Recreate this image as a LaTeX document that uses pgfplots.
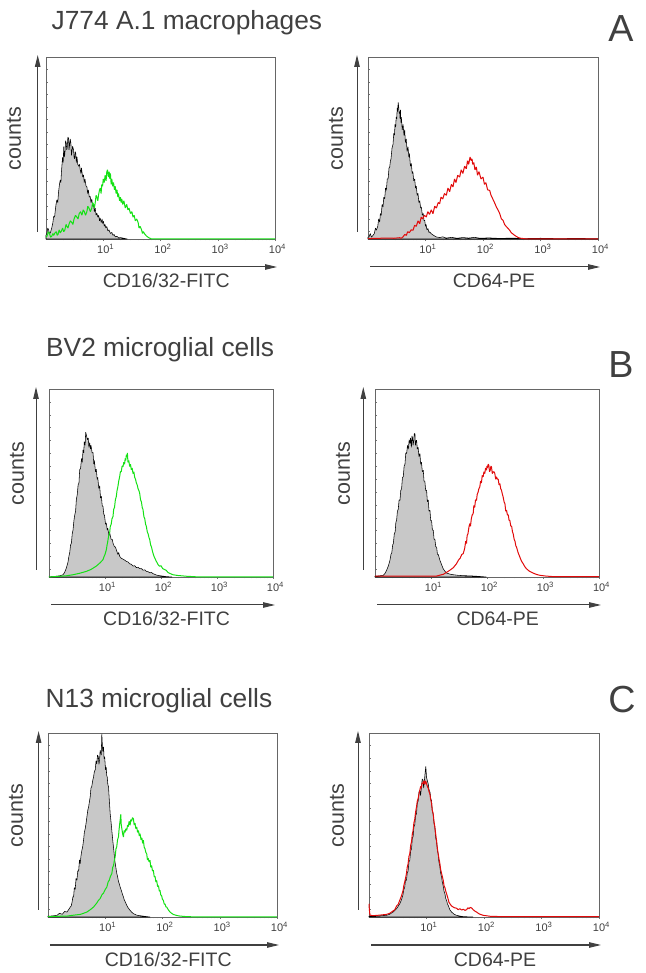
\documentclass[border=0pt]{standalone}
\usepackage{fontspec}
\setmainfont{Liberation Sans}
\usepackage{pgfplots}
\pgfplotsset{compat=1.18}
\usetikzlibrary{arrows.meta}
\definecolor{txt}{RGB}{64,64,64}
\definecolor{fcgreen}{RGB}{20,225,20}
\definecolor{fcred}{RGB}{225,10,10}
\definecolor{fcgray}{RGB}{200,200,200}
\pgfplotsset{facs/.style={
  scale only axis, anchor=south west,
  xmin=0,xmax=4,ymin=0,ymax=1,
  axis line style={draw=black!60, line width=0.5pt},
  xtick={1,2,3,4},
  xticklabels={10\textsuperscript{1},10\textsuperscript{2},10\textsuperscript{3},10\textsuperscript{4}},
  minor xtick={0.301,0.477,0.602,0.699,0.778,0.845,0.903,0.954,1.301,1.477,1.602,1.699,1.778,1.845,1.903,1.954,2.301,2.477,2.602,2.699,2.778,2.845,2.903,2.954,3.301,3.477,3.602,3.699,3.778,3.845,3.903,3.954},
  xtick pos=bottom, xtick align=outside,
  ytick={1,0.9315,0.863,0.7945,0.726,0.6575,0.589,0.5205,0.452,0.3835,0.315,0.2465,0.178,0.1095,0.041},
  yticklabels={}, ytick pos=left, ytick align=inside,
  major tick length=2pt, minor tick length=1.5pt,
  tick style={black!55, line width=0.4pt},
  xticklabel style={font=\fontsize{11}{13}\selectfont, text=txt, xshift=2.5pt},
  clip=false,
}}
\newcommand{\deco}[3]{%
  \draw[txt, line width=1pt, -{Triangle[length=12pt,width=5.5pt]}] ([xshift=#1,yshift=7pt]rel axis cs:0,0) -- ([xshift=#1,yshift=2pt]rel axis cs:0,1);
  \draw[txt, line width=1pt, -{Triangle[length=12pt,width=5.5pt]}] ([xshift=2pt,yshift=-28pt]rel axis cs:0,0) -- ([xshift=2pt,yshift=-28pt]rel axis cs:1,0);
  \node[rotate=90, text=txt, font=\fontsize{21.5}{24}\selectfont] at ([xshift=-32pt]rel axis cs:0,0.55) {counts};
  \node[anchor=base, text=txt, font=\fontsize{19.5}{22}\selectfont] at ([yshift=-49pt]rel axis cs:#3,0) {#2};
}
\tikzset{grayfill/.style={fill=fcgray, draw=black, line width=0.55pt, line join=bevel},
  greenline/.style={draw=fcgreen, line width=1pt, line join=bevel},
  redline/.style={draw=fcred, line width=1pt, line join=bevel}}
\begin{document}
\begin{tikzpicture}[x=1pt,y=1pt]
\useasboundingbox (0,0) rectangle (645,973);
% titles
\node[anchor=base west, text=txt, font=\fontsize{26.3}{30}\selectfont, inner sep=0pt] at (51.5,943) {J774 A.1 macrophages};
\node[anchor=base west, text=txt, font=\fontsize{26.3}{30}\selectfont, inner sep=0pt] at (46,616) {BV2 microglial cells};
\node[anchor=base west, text=txt, font=\fontsize{26.3}{30}\selectfont, inner sep=0pt] at (45.5,265) {N13 microglial cells};
\node[anchor=base, text=txt, font=\fontsize{37.7}{40}\selectfont, inner sep=0pt] at (621,931) {A};
\node[anchor=base, text=txt, font=\fontsize{37.7}{40}\selectfont, inner sep=0pt] at (621,595) {B};
\node[anchor=base, text=txt, font=\fontsize{37.7}{40}\selectfont, inner sep=0pt] at (622,260) {C};

% ---------- A left
\begin{axis}[facs, at={(46pt,734pt)}, width=229pt, height=182pt]
\addplot[grayfill] coordinates {(0,0.02)(0.017,0.033)(0.03,0.06)(0.046,0.051)(0.06,0.03)(0.075,0.033)(0.10,0.06)(0.12,0.09)(0.134,0.124)(0.15,0.12)(0.16,0.15)(0.175,0.19)(0.19,0.215)(0.205,0.20)(0.22,0.26)(0.235,0.30)(0.25,0.325)(0.26,0.31)(0.27,0.37)(0.28,0.41)(0.29,0.45)(0.30,0.42)(0.31,0.507)(0.32,0.45)(0.33,0.47)(0.342,0.54)(0.354,0.526)(0.362,0.49)(0.37,0.50)(0.382,0.56)(0.395,0.553)(0.402,0.49)(0.41,0.51)(0.422,0.55)(0.435,0.526)(0.445,0.46)(0.45,0.47)(0.465,0.51)(0.482,0.489)(0.49,0.45)(0.50,0.44)(0.51,0.48)(0.52,0.47)(0.53,0.42)(0.54,0.453)(0.555,0.41)(0.57,0.40)(0.585,0.41)(0.598,0.38)(0.61,0.36)(0.62,0.39)(0.64,0.34)(0.656,0.352)(0.668,0.31)(0.68,0.33)(0.70,0.29)(0.714,0.288)(0.728,0.25)(0.74,0.27)(0.756,0.23)(0.772,0.234)(0.785,0.20)(0.80,0.22)(0.815,0.18)(0.83,0.188)(0.845,0.15)(0.86,0.17)(0.875,0.13)(0.888,0.142)(0.905,0.12)(0.92,0.13)(0.935,0.10)(0.946,0.115)(0.965,0.09)(0.98,0.11)(0.99,0.085)(1.004,0.097)(1.018,0.07)(1.03,0.08)(1.045,0.06)(1.062,0.069)(1.08,0.045)(1.10,0.05)(1.125,0.03)(1.15,0.036)(1.17,0.02)(1.19,0.025)(1.21,0.012)(1.237,0.015)(1.27,0.006)(1.30,0.008)(1.353,0.004)(1.42,0)} \closedcycle;
\addplot[greenline] coordinates {(0,0.01)(0.017,0.015)(0.04,0.04)(0.06,0.03)(0.08,0.01)(0.10,0.015)(0.12,0.03)(0.134,0.02)(0.16,0.035)(0.18,0.04)(0.195,0.02)(0.21,0.025)(0.23,0.05)(0.25,0.033)(0.27,0.045)(0.29,0.06)(0.31,0.04)(0.33,0.05)(0.35,0.08)(0.366,0.069)(0.385,0.06)(0.40,0.08)(0.425,0.10)(0.453,0.09)(0.47,0.08)(0.49,0.11)(0.515,0.13)(0.54,0.12)(0.56,0.11)(0.58,0.14)(0.605,0.15)(0.627,0.13)(0.65,0.16)(0.67,0.15)(0.69,0.13)(0.714,0.15)(0.73,0.18)(0.75,0.17)(0.775,0.15)(0.8,0.17)(0.815,0.20)(0.83,0.19)(0.845,0.17)(0.86,0.2)(0.875,0.24)(0.89,0.23)(0.905,0.21)(0.917,0.24)(0.935,0.27)(0.95,0.28)(0.962,0.25)(0.975,0.3)(0.988,0.29)(1.00,0.33)(1.017,0.31)(1.033,0.35)(1.05,0.32)(1.062,0.37)(1.074,0.38)(1.09,0.34)(1.103,0.37)(1.115,0.33)(1.125,0.36)(1.138,0.30)(1.15,0.33)(1.165,0.29)(1.18,0.31)(1.195,0.27)(1.208,0.29)(1.225,0.25)(1.24,0.27)(1.255,0.23)(1.266,0.25)(1.285,0.21)(1.30,0.23)(1.312,0.20)(1.324,0.22)(1.34,0.19)(1.36,0.21)(1.385,0.17)(1.41,0.19)(1.43,0.16)(1.45,0.17)(1.475,0.14)(1.5,0.15)(1.52,0.12)(1.54,0.13)(1.56,0.10)(1.585,0.11)(1.61,0.09)(1.625,0.06)(1.643,0.07)(1.67,0.05)(1.685,0.03)(1.7,0.04)(1.73,0.025)(1.76,0.015)(1.80,0.006)(1.846,0)(4,0)};
\deco{-8.3pt}{CD16/32-FITC}{0.525}
\end{axis}

% ---------- A right
\begin{axis}[facs, at={(368pt,734pt)}, width=230pt, height=182pt]
\addplot[grayfill] coordinates {(0,0.01)(0.017,0.011)(0.04,0.03)(0.06,0.01)(0.087,0.02)(0.11,0.03)(0.13,0.06)(0.145,0.048)(0.17,0.07)(0.185,0.11)(0.203,0.093)(0.215,0.14)(0.23,0.13)(0.245,0.19)(0.261,0.176)(0.275,0.23)(0.29,0.22)(0.305,0.28)(0.319,0.267)(0.335,0.33)(0.35,0.33)(0.365,0.39)(0.377,0.394)(0.39,0.43)(0.40,0.44)(0.418,0.50)(0.435,0.52)(0.448,0.58)(0.46,0.57)(0.47,0.63)(0.481,0.615)(0.49,0.67)(0.50,0.66)(0.508,0.72)(0.515,0.70)(0.525,0.75)(0.533,0.729)(0.542,0.69)(0.55,0.70)(0.558,0.66)(0.565,0.71)(0.572,0.64)(0.58,0.67)(0.595,0.60)(0.61,0.63)(0.625,0.57)(0.638,0.6)(0.65,0.53)(0.665,0.55)(0.68,0.48)(0.696,0.506)(0.71,0.45)(0.72,0.47)(0.738,0.40)(0.754,0.415)(0.768,0.36)(0.78,0.37)(0.795,0.32)(0.812,0.33)(0.826,0.28)(0.84,0.29)(0.855,0.24)(0.87,0.25)(0.885,0.20)(0.90,0.21)(0.915,0.17)(0.928,0.176)(0.945,0.13)(0.96,0.14)(0.975,0.10)(0.986,0.103)(1.0,0.07)(1.01,0.08)(1.025,0.05)(1.043,0.057)(1.06,0.035)(1.07,0.04)(1.1,0.029)(1.15,0.018)(1.19,0.011)(1.25,0.008)(1.30,0.012)(1.36,0.005)(1.45,0.009)(1.55,0.004)(1.65,0.008)(1.75,0.005)(1.85,0.009)(1.95,0.004)(2.1,0.006)(2.3,0.003)(2.5,0.005)(2.7,0.002)(3.0,0.004)(3.3,0.002)(3.6,0.003)(4,0.002)} \closedcycle;
\addplot[redline] coordinates {(0,0.002)(0.319,0.005)(0.45,0.004)(0.551,0.007)(0.58,0.004)(0.61,0.012)(0.64,0.025)(0.667,0.02)(0.69,0.04)(0.72,0.035)(0.75,0.05)(0.783,0.048)(0.81,0.075)(0.84,0.07)(0.87,0.1)(0.899,0.084)(0.925,0.12)(0.95,0.11)(0.98,0.13)(1.014,0.121)(1.04,0.15)(1.07,0.135)(1.10,0.16)(1.13,0.139)(1.16,0.18)(1.19,0.17)(1.22,0.2)(1.246,0.194)(1.27,0.23)(1.30,0.22)(1.33,0.25)(1.362,0.24)(1.39,0.28)(1.42,0.26)(1.45,0.30)(1.478,0.286)(1.505,0.33)(1.53,0.31)(1.56,0.35)(1.594,0.34)(1.62,0.38)(1.65,0.36)(1.68,0.40)(1.71,0.386)(1.73,0.43)(1.75,0.41)(1.775,0.45)(1.797,0.43)(1.81,0.44)(1.82,0.41)(1.84,0.42)(1.86,0.38)(1.884,0.396)(1.905,0.35)(1.93,0.37)(1.965,0.33)(2.0,0.34)(2.025,0.30)(2.05,0.31)(2.08,0.27)(2.116,0.267)(2.14,0.24)(2.17,0.22)(2.2,0.2)(2.232,0.176)(2.26,0.16)(2.29,0.14)(2.32,0.11)(2.348,0.103)(2.375,0.08)(2.40,0.07)(2.43,0.06)(2.464,0.048)(2.49,0.035)(2.51,0.03)(2.551,0.02)(2.6,0.01)(2.638,0.005)(2.754,0)(4,0)};
\deco{-11pt}{CD64-PE}{0.548}
\end{axis}

% ---------- B left
\begin{axis}[facs, at={(49pt,396pt)}, width=224pt, height=188pt]
\addplot[grayfill] coordinates {(0,0)(0.131,0.004)(0.19,0.006)(0.25,0.012)(0.28,0.025)(0.31,0.048)(0.34,0.08)(0.355,0.11)(0.369,0.127)(0.385,0.17)(0.40,0.18)(0.415,0.23)(0.429,0.25)(0.445,0.30)(0.46,0.33)(0.475,0.35)(0.488,0.41)(0.505,0.44)(0.52,0.49)(0.535,0.50)(0.548,0.57)(0.565,0.58)(0.58,0.63)(0.595,0.61)(0.607,0.676)(0.62,0.66)(0.63,0.72)(0.645,0.70)(0.655,0.77)(0.667,0.756)(0.685,0.73)(0.70,0.74)(0.712,0.69)(0.726,0.715)(0.74,0.68)(0.75,0.70)(0.77,0.66)(0.786,0.662)(0.80,0.60)(0.81,0.62)(0.83,0.56)(0.845,0.573)(0.86,0.52)(0.87,0.53)(0.89,0.47)(0.905,0.485)(0.92,0.42)(0.935,0.43)(0.95,0.38)(0.964,0.375)(0.98,0.33)(0.99,0.33)(1.01,0.28)(1.024,0.287)(1.04,0.25)(1.05,0.26)(1.07,0.22)(1.083,0.235)(1.11,0.20)(1.13,0.20)(1.143,0.18)(1.17,0.16)(1.185,0.16)(1.202,0.145)(1.23,0.12)(1.245,0.13)(1.262,0.11)(1.29,0.10)(1.32,0.095)(1.35,0.09)(1.381,0.083)(1.41,0.08)(1.44,0.07)(1.47,0.068)(1.5,0.058)(1.53,0.06)(1.56,0.05)(1.59,0.052)(1.619,0.044)(1.65,0.045)(1.68,0.036)(1.71,0.038)(1.738,0.03)(1.77,0.028)(1.80,0.022)(1.83,0.024)(1.857,0.018)(1.92,0.01)(1.976,0.007)(2.095,0.002)(2.2,0)} \closedcycle;
\addplot[greenline] coordinates {(0,0)(0.19,0.004)(0.3,0.006)(0.429,0.012)(0.55,0.02)(0.667,0.03)(0.75,0.04)(0.845,0.058)(0.91,0.075)(0.964,0.092)(0.985,0.11)(1.00,0.12)(1.024,0.145)(1.037,0.17)(1.05,0.19)(1.065,0.22)(1.083,0.234)(1.095,0.27)(1.11,0.28)(1.125,0.31)(1.143,0.322)(1.155,0.36)(1.17,0.37)(1.185,0.41)(1.202,0.428)(1.215,0.46)(1.23,0.48)(1.245,0.51)(1.262,0.534)(1.275,0.56)(1.29,0.56)(1.305,0.59)(1.321,0.586)(1.335,0.61)(1.35,0.60)(1.36,0.63)(1.37,0.62)(1.382,0.65)(1.393,0.64)(1.40,0.66)(1.41,0.61)(1.425,0.62)(1.44,0.588)(1.455,0.60)(1.47,0.57)(1.485,0.58)(1.5,0.55)(1.515,0.56)(1.53,0.53)(1.545,0.52)(1.56,0.5)(1.575,0.49)(1.59,0.47)(1.605,0.46)(1.619,0.446)(1.635,0.41)(1.65,0.40)(1.665,0.37)(1.679,0.358)(1.695,0.32)(1.71,0.31)(1.725,0.28)(1.738,0.27)(1.755,0.24)(1.77,0.23)(1.785,0.21)(1.798,0.2)(1.815,0.17)(1.83,0.16)(1.845,0.14)(1.857,0.127)(1.875,0.11)(1.89,0.10)(1.917,0.083)(1.95,0.065)(1.976,0.057)(2.0,0.06)(2.03,0.045)(2.06,0.04)(2.095,0.035)(2.12,0.025)(2.15,0.02)(2.214,0.012)(2.3,0.008)(2.452,0.004)(2.69,0)(4,0)};
\deco{-13pt}{CD16/32-FITC}{0.525}
\end{axis}

% ---------- B right
\begin{axis}[facs, at={(375pt,396pt)}, width=224pt, height=188pt]
\addplot[grayfill] coordinates {(0,0.004)(0.018,0.004)(0.08,0.006)(0.149,0.009)(0.18,0.02)(0.208,0.036)(0.24,0.06)(0.267,0.089)(0.285,0.12)(0.30,0.13)(0.315,0.17)(0.327,0.178)(0.345,0.23)(0.36,0.24)(0.372,0.29)(0.386,0.302)(0.4,0.35)(0.415,0.36)(0.43,0.41)(0.446,0.408)(0.46,0.46)(0.475,0.47)(0.49,0.53)(0.505,0.533)(0.52,0.59)(0.535,0.60)(0.55,0.66)(0.565,0.657)(0.58,0.70)(0.595,0.68)(0.61,0.73)(0.624,0.71)(0.635,0.74)(0.65,0.69)(0.66,0.75)(0.67,0.74)(0.68,0.70)(0.69,0.72)(0.7,0.76)(0.713,0.764)(0.722,0.70)(0.73,0.72)(0.743,0.728)(0.755,0.68)(0.77,0.69)(0.785,0.64)(0.802,0.657)(0.815,0.60)(0.83,0.61)(0.845,0.56)(0.862,0.568)(0.875,0.51)(0.89,0.51)(0.905,0.46)(0.921,0.462)(0.935,0.40)(0.95,0.41)(0.965,0.35)(0.981,0.355)(0.995,0.30)(1.01,0.30)(1.025,0.25)(1.04,0.249)(1.055,0.20)(1.07,0.20)(1.085,0.16)(1.1,0.16)(1.115,0.12)(1.13,0.12)(1.159,0.089)(1.19,0.065)(1.218,0.044)(1.25,0.03)(1.278,0.021)(1.34,0.015)(1.397,0.012)(1.48,0.009)(1.575,0.007)(1.70,0.006)(1.813,0.004)(1.99,0)} \closedcycle;
\addplot[redline] coordinates {(0,0.005)(0.5,0.004)(1.1,0.005)(1.16,0.01)(1.218,0.014)(1.28,0.025)(1.337,0.036)(1.40,0.05)(1.456,0.071)(1.49,0.09)(1.52,0.10)(1.55,0.12)(1.575,0.124)(1.59,0.14)(1.60,0.15)(1.62,0.19)(1.634,0.178)(1.645,0.22)(1.66,0.23)(1.68,0.27)(1.694,0.284)(1.705,0.27)(1.72,0.31)(1.735,0.33)(1.753,0.337)(1.765,0.38)(1.78,0.37)(1.795,0.41)(1.813,0.408)(1.825,0.44)(1.84,0.45)(1.855,0.47)(1.872,0.48)(1.885,0.51)(1.90,0.50)(1.915,0.54)(1.932,0.533)(1.945,0.56)(1.96,0.55)(1.975,0.58)(1.991,0.568)(2.0,0.59)(2.01,0.58)(2.02,0.60)(2.033,0.595)(2.045,0.56)(2.06,0.57)(2.07,0.59)(2.08,0.585)(2.095,0.55)(2.11,0.559)(2.125,0.56)(2.14,0.55)(2.155,0.52)(2.169,0.533)(2.185,0.52)(2.20,0.52)(2.215,0.49)(2.229,0.497)(2.245,0.47)(2.26,0.46)(2.275,0.44)(2.288,0.426)(2.305,0.40)(2.32,0.39)(2.335,0.35)(2.348,0.355)(2.365,0.33)(2.38,0.33)(2.395,0.30)(2.407,0.302)(2.425,0.27)(2.44,0.27)(2.455,0.24)(2.467,0.231)(2.485,0.2)(2.50,0.19)(2.515,0.165)(2.526,0.16)(2.555,0.13)(2.585,0.107)(2.615,0.085)(2.645,0.071)(2.675,0.055)(2.704,0.044)(2.76,0.03)(2.823,0.021)(2.88,0.014)(2.942,0.009)(3.05,0.005)(3.18,0.002)(4,0.002)};
\deco{-11.7pt}{CD64-PE}{0.548}
\end{axis}

% ---------- C left
\begin{axis}[facs, at={(48pt,56pt)}, width=229pt, height=184pt]
\addplot[grayfill] coordinates {(0,0.004)(0.012,0.004)(0.08,0.006)(0.157,0.009)(0.2,0.02)(0.25,0.015)(0.29,0.03)(0.331,0.027)(0.36,0.04)(0.389,0.054)(0.405,0.06)(0.42,0.08)(0.435,0.11)(0.447,0.109)(0.46,0.16)(0.475,0.15)(0.49,0.21)(0.505,0.199)(0.52,0.25)(0.535,0.25)(0.55,0.31)(0.563,0.29)(0.575,0.33)(0.59,0.36)(0.605,0.38)(0.621,0.417)(0.635,0.46)(0.65,0.48)(0.665,0.51)(0.679,0.543)(0.695,0.58)(0.71,0.60)(0.725,0.63)(0.737,0.652)(0.75,0.70)(0.765,0.71)(0.78,0.74)(0.795,0.76)(0.81,0.79)(0.825,0.80)(0.84,0.85)(0.853,0.833)(0.865,0.88)(0.88,0.87)(0.89,0.83)(0.90,0.85)(0.911,0.906)(0.93,0.88)(0.94,0.995)(0.955,0.90)(0.97,0.924)(0.98,0.86)(0.99,0.87)(1.005,0.80)(1.016,0.815)(1.025,0.77)(1.035,0.76)(1.045,0.72)(1.057,0.707)(1.07,0.64)(1.086,0.562)(1.1,0.52)(1.115,0.47)(1.13,0.42)(1.144,0.38)(1.16,0.33)(1.17,0.30)(1.185,0.27)(1.202,0.236)(1.215,0.22)(1.23,0.195)(1.245,0.18)(1.26,0.163)(1.275,0.15)(1.29,0.135)(1.305,0.12)(1.318,0.109)(1.33,0.095)(1.345,0.085)(1.36,0.075)(1.376,0.063)(1.39,0.055)(1.405,0.048)(1.434,0.036)(1.46,0.027)(1.492,0.018)(1.55,0.01)(1.608,0.007)(1.7,0.003)(1.782,0)} \closedcycle;
\addplot[greenline] coordinates {(0,0.002)(0.2,0.004)(0.331,0.005)(0.45,0.01)(0.563,0.014)(0.62,0.02)(0.679,0.027)(0.74,0.04)(0.795,0.054)(0.85,0.075)(0.88,0.09)(0.911,0.1)(0.94,0.12)(0.97,0.13)(1.0,0.15)(1.028,0.163)(1.05,0.19)(1.07,0.20)(1.09,0.22)(1.115,0.236)(1.13,0.27)(1.145,0.28)(1.16,0.31)(1.173,0.326)(1.187,0.37)(1.20,0.38)(1.215,0.42)(1.231,0.435)(1.24,0.47)(1.25,0.50)(1.262,0.53)(1.271,0.558)(1.28,0.50)(1.29,0.48)(1.305,0.45)(1.318,0.435)(1.33,0.47)(1.345,0.46)(1.36,0.48)(1.376,0.471)(1.39,0.50)(1.40,0.49)(1.418,0.52)(1.434,0.498)(1.447,0.53)(1.46,0.52)(1.476,0.54)(1.492,0.534)(1.505,0.50)(1.52,0.51)(1.535,0.48)(1.55,0.489)(1.565,0.46)(1.58,0.47)(1.595,0.44)(1.608,0.453)(1.625,0.42)(1.64,0.43)(1.653,0.40)(1.666,0.417)(1.68,0.38)(1.695,0.37)(1.71,0.35)(1.724,0.344)(1.737,0.31)(1.75,0.32)(1.765,0.30)(1.782,0.308)(1.795,0.27)(1.81,0.28)(1.825,0.25)(1.84,0.254)(1.855,0.22)(1.87,0.22)(1.885,0.19)(1.898,0.199)(1.915,0.165)(1.93,0.17)(1.945,0.14)(1.956,0.145)(1.97,0.12)(1.985,0.115)(2.0,0.095)(2.015,0.091)(2.03,0.07)(2.045,0.07)(2.06,0.055)(2.073,0.054)(2.10,0.04)(2.131,0.027)(2.16,0.02)(2.189,0.014)(2.25,0.008)(2.305,0.005)(2.421,0.002)(2.65,0)(4,0)};
\deco{-9.4pt}{CD16/32-FITC}{0.525}
\end{axis}

% ---------- C right
\begin{axis}[facs, at={(369pt,56pt)}, width=230pt, height=184pt]
\addplot[grayfill] coordinates {(0,0.004)(0.012,0.004)(0.15,0.006)(0.302,0.009)(0.36,0.015)(0.419,0.027)(0.48,0.045)(0.535,0.072)(0.56,0.09)(0.59,0.12)(0.605,0.15)(0.62,0.16)(0.635,0.20)(0.651,0.199)(0.665,0.24)(0.68,0.25)(0.695,0.30)(0.709,0.308)(0.725,0.36)(0.74,0.37)(0.753,0.43)(0.767,0.435)(0.78,0.49)(0.795,0.50)(0.81,0.55)(0.826,0.562)(0.84,0.62)(0.855,0.63)(0.87,0.68)(0.884,0.688)(0.897,0.66)(0.91,0.70)(0.925,0.75)(0.942,0.743)(0.95,0.70)(0.96,0.73)(0.975,0.78)(0.988,0.819)(1.0,0.76)(1.015,0.74)(1.029,0.725)(1.045,0.69)(1.06,0.68)(1.075,0.64)(1.087,0.634)(1.1,0.58)(1.115,0.56)(1.13,0.51)(1.145,0.489)(1.16,0.43)(1.175,0.41)(1.19,0.36)(1.203,0.344)(1.215,0.30)(1.23,0.28)(1.245,0.24)(1.262,0.217)(1.275,0.19)(1.29,0.17)(1.305,0.14)(1.32,0.127)(1.335,0.10)(1.35,0.09)(1.365,0.07)(1.378,0.063)(1.405,0.04)(1.436,0.027)(1.48,0.015)(1.523,0.009)(1.58,0.005)(1.64,0.002)(1.81,0)} \closedcycle;
\addplot[redline] coordinates {(0,0.072)(0.006,0.04)(0.017,0.01)(0.07,0.007)(0.18,0.01)(0.302,0.014)(0.36,0.02)(0.419,0.033)(0.45,0.04)(0.48,0.06)(0.51,0.07)(0.535,0.091)(0.565,0.115)(0.593,0.145)(0.605,0.17)(0.62,0.19)(0.635,0.21)(0.651,0.236)(0.665,0.27)(0.68,0.29)(0.695,0.33)(0.709,0.344)(0.725,0.39)(0.74,0.41)(0.753,0.45)(0.767,0.471)(0.78,0.51)(0.795,0.53)(0.81,0.57)(0.826,0.598)(0.84,0.63)(0.855,0.645)(0.87,0.67)(0.884,0.688)(0.897,0.71)(0.91,0.70)(0.925,0.73)(0.942,0.725)(0.955,0.74)(0.97,0.72)(0.985,0.74)(1.0,0.725)(1.015,0.71)(1.03,0.70)(1.045,0.68)(1.058,0.67)(1.072,0.64)(1.087,0.62)(1.1,0.58)(1.116,0.562)(1.13,0.52)(1.145,0.49)(1.16,0.45)(1.174,0.417)(1.19,0.37)(1.2,0.35)(1.215,0.32)(1.233,0.29)(1.245,0.26)(1.26,0.24)(1.275,0.22)(1.291,0.199)(1.305,0.17)(1.32,0.16)(1.335,0.14)(1.349,0.127)(1.365,0.11)(1.378,0.095)(1.39,0.08)(1.407,0.072)(1.435,0.06)(1.465,0.054)(1.49,0.05)(1.52,0.048)(1.55,0.04)(1.581,0.045)(1.61,0.038)(1.64,0.042)(1.67,0.036)(1.698,0.04)(1.72,0.05)(1.74,0.045)(1.76,0.052)(1.785,0.049)(1.81,0.04)(1.83,0.035)(1.85,0.03)(1.872,0.027)(1.9,0.02)(1.93,0.015)(1.988,0.009)(2.105,0.004)(2.3,0.002)(4,0.002)};
\deco{-11pt}{CD64-PE}{0.548}
\end{axis}
\end{tikzpicture}
\end{document}
